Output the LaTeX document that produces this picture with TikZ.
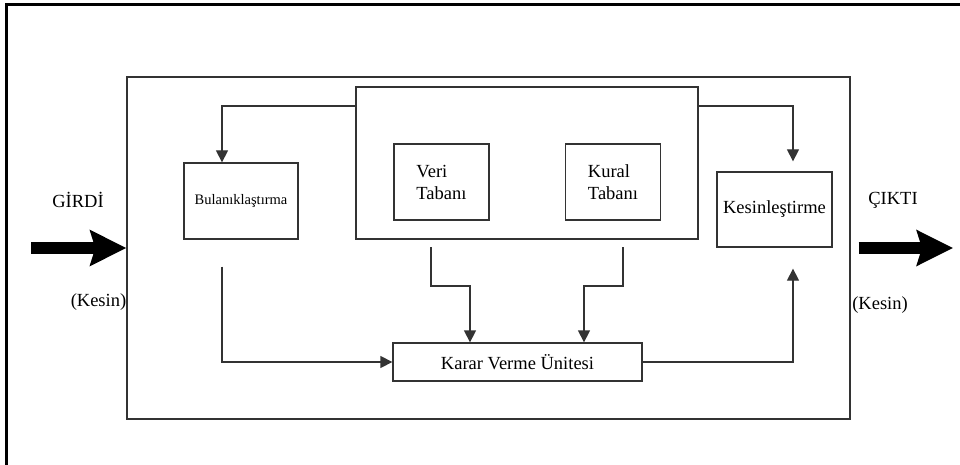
\documentclass[tikz,border=0pt]{standalone}
\usepackage{fontspec}
\setmainfont{Liberation Serif}
\usepackage{tikz}
\usetikzlibrary{arrows.meta,positioning}

\begin{document}
\begin{tikzpicture}[x=1pt, y=-1pt,
    box/.style={rectangle, draw=black!80, line width=1.3pt, inner sep=2pt, font=\fontsize{18.5}{22}\selectfont},
    lbl/.style={inner sep=0pt, font=\fontsize{18.5}{22}\selectfont},
    flow/.style={draw=black!80, line width=1.3pt, -{Triangle[length=12pt,width=12pt]}},
    bigflow/.style={line width=12pt, -{Stealth[length=36pt,width=35pt,inset=5pt]}}]

    \useasboundingbox (0,0) rectangle (960,465);
    \draw[line width=3pt] (960,5) -- (6,5) -- (6,465);

    \node[box,minimum width=723pt,minimum height=342pt] (sys) at (488.5,248) {};
    \node[box,minimum width=342pt,minimum height=152pt] (kb) at (527,163) {};

    \foreach \n/\x/\t in {veri/441.5/Veri,kural/613/Kural}{
        \node[box,align=left,minimum width=95pt,minimum height=76pt] (\n) at (\x,182) {\t\\Tabanı};
    }

    \node[box,minimum width=114pt,minimum height=76pt,font=\fontsize{14.5}{17}\selectfont] (fuzz) at (241,201) {Bulanıklaştırma};
    \node[box,minimum width=115pt,minimum height=75pt] (defuzz) at (774.5,209.5) {Kesinleştirme};
    \node[box,minimum width=249pt,minimum height=38pt] (karar) at (517.5,362) {Karar Verme Ünitesi};

    % giris / cikis
    \node[lbl] (girdi) at (78,200) {GİRDİ};
    \node[lbl] (kesinin) at (98.5,302) {(Kesin)};
    \node[lbl] (cikti) at (893,200) {ÇIKTI};
    \node[lbl] (kesinout) at (880,305) {(Kesin)};

    \coordinate (in) at (31,248);
    \coordinate (out) at (953,248);
    \draw[bigflow] (in) -- (sys.west);
    \draw[bigflow] ([xshift=8pt]sys.east) -- (out);

    \coordinate (vout) at (431,247);
    \coordinate (kout) at (623,247);

    \draw[flow] (kb.west |- 0,106) -| ([xshift=-19pt]fuzz.north);
    \draw[flow] (kb.east |- 0,106) -| ([xshift=18.5pt,yshift=10pt]defuzz.north);
    \draw[flow] ([xshift=-19pt,yshift=-27pt]fuzz.south) |- (karar.west);
    \draw[flow] (vout) -- (431,286) -| ([xshift=-47.5pt]karar.north);
    \draw[flow] (kout) -- (623,286) -| ([xshift=66.5pt]karar.north);
    \draw[flow] (karar.east) -| ([xshift=18.5pt,yshift=-21pt]defuzz.south);

\end{tikzpicture}
\end{document}
